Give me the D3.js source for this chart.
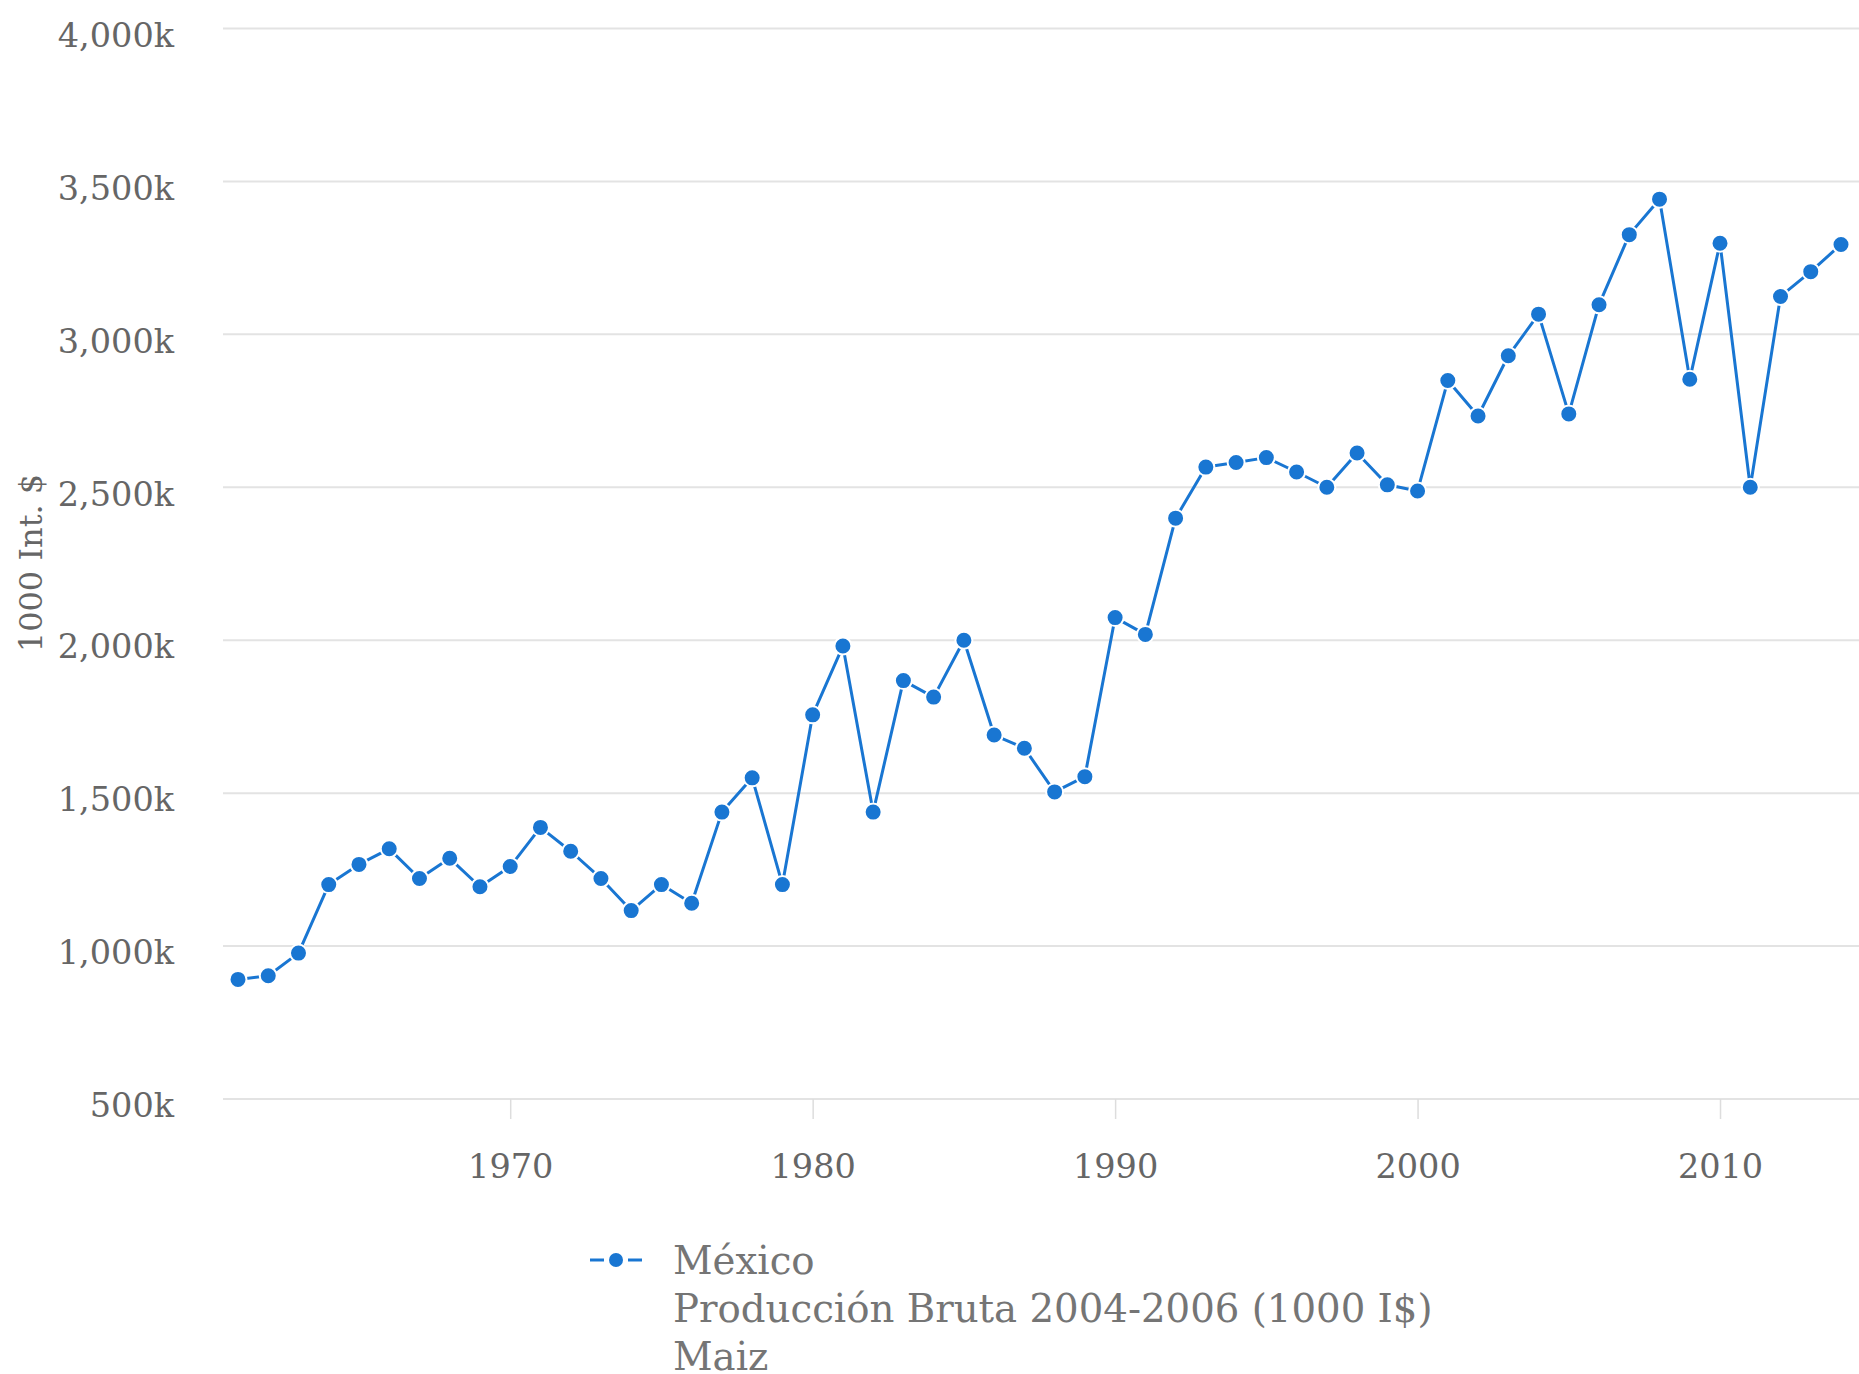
<!DOCTYPE html>
<html>
<head>
<meta charset="utf-8">
<script src="https://cdn.jsdelivr.net/npm/d3@7"></script>
<style>
  html, body { margin: 0; padding: 0; background: #fff; }
  svg { display: block; }
  text { font-family: "DejaVu Serif", serif; }
</style>
</head>
<body>
<svg id="chart" width="1859" height="1374"></svg>
<script>
// ---- data ----
const years = [1961,1962,1963,1964,1965,1966,1967,1968,1969,1970,
               1971,1972,1973,1974,1975,1976,1977,1978,1979,1980,
               1981,1982,1983,1984,1985,1986,1987,1988,1989,1990,
               1991,1992,1993,1994,1995,1996,1997,1998,1999,2000,
               2001,2002,2003,2004,2005,2006,2007,2008,2009,2010,
               2011,2012,2013,2014];
const values = [891000,903000,977000,1201000,1267000,1318000,1221000,1287000,1194000,1260000,
                1388000,1310000,1221000,1116000,1201000,1140000,1438000,1550000,1201000,1756000,
                1981000,1438000,1868000,1814000,2000000,1690000,1647000,1504000,1554000,2074000,
                2019000,2399000,2566000,2581000,2597000,2550000,2500000,2612000,2508000,2488000,
                2849000,2733000,2930000,3066000,2740000,3097000,3326000,3442000,2853000,3298000,
                2500000,3124000,3205000,3294000];
const yTicks = [500000,1000000,1500000,2000000,2500000,3000000,3500000,4000000];
const xTicks = [1970,1980,1990,2000,2010];
const yTitle = "1000 Int. $";
const legendLines = ["México", "Producción Bruta 2004-2006 (1000 I$)", "Maiz"];

// ---- layout ----
const svg = d3.select("#chart");
const plotLeft = 223, plotRight = 1859;
const blue = "#1976d2";
const textColor = "#666";

const x = d3.scaleLinear().domain([1961, 2014]).range([238, 1841]);
const y = d3.scaleLinear().domain([500000, 4000000]).range([1099, 28.5]);
const data = years.map((yr, i) => ({year: yr, value: values[i]}));

// gridlines
svg.append("g").selectAll("line").data(yTicks).join("line")
  .attr("x1", plotLeft).attr("x2", plotRight)
  .attr("y1", d => y(d)).attr("y2", d => y(d))
  .attr("stroke", "#e3e3e3").attr("stroke-width", 2);

// y axis labels
const fmt = d3.format(",");
const yAxis = d3.axisLeft(y).tickValues(yTicks).tickSize(0).tickPadding(0)
  .tickFormat(d => fmt(d / 1000) + "k");
const gy = svg.append("g").attr("transform", "translate(174,5)").call(yAxis);
gy.select(".domain").remove();
gy.selectAll("text").attr("font-family", "DejaVu Serif").attr("font-size", 33.5)
  .attr("fill", textColor).attr("dy", "0.38em");

// x axis
const xAxis = d3.axisBottom(x).tickValues(xTicks).tickSize(20).tickPadding(35)
  .tickFormat(d3.format("d"));
const gx = svg.append("g").attr("transform", "translate(0,1099)").call(xAxis);
gx.select(".domain").remove();
gx.selectAll(".tick line").attr("stroke", "#ddd").attr("stroke-width", 1.5);
gx.selectAll("text").attr("font-family", "DejaVu Serif").attr("font-size", 33.5)
  .attr("fill", textColor);

// y title
svg.append("text")
  .attr("transform", "translate(42,563) rotate(-90)")
  .attr("text-anchor", "middle")
  .attr("font-size", 32).attr("fill", textColor)
  .text(yTitle);

// line
const line = d3.line().x(d => x(d.year)).y(d => y(d.value));
svg.append("path").datum(data)
  .attr("d", line).attr("fill", "none")
  .attr("stroke", blue).attr("stroke-width", 3).attr("stroke-linejoin", "round");

// points
svg.append("g").selectAll("circle").data(data).join("circle")
  .attr("cx", d => x(d.year)).attr("cy", d => y(d.value))
  .attr("r", 8.5).attr("fill", blue).attr("stroke", "#fff").attr("stroke-width", 2);

// legend
const lg = svg.append("g").attr("transform", "translate(0,1260)");
lg.append("line").attr("x1", 590).attr("x2", 604).attr("y1", 0).attr("y2", 0)
  .attr("stroke", blue).attr("stroke-width", 3);
lg.append("line").attr("x1", 628).attr("x2", 642).attr("y1", 0).attr("y2", 0)
  .attr("stroke", blue).attr("stroke-width", 3);
lg.append("circle").attr("cx", 616).attr("cy", 0).attr("r", 7)
  .attr("fill", blue);
lg.selectAll("text.leg").data(legendLines).join("text")
  .attr("class", "leg")
  .attr("x", 673).attr("y", (d, i) => i * 48)
  .attr("dy", "0.35em")
  .attr("font-size", 38.7).attr("fill", "#757575")
  .text(d => d);
</script>
</body>
</html>
